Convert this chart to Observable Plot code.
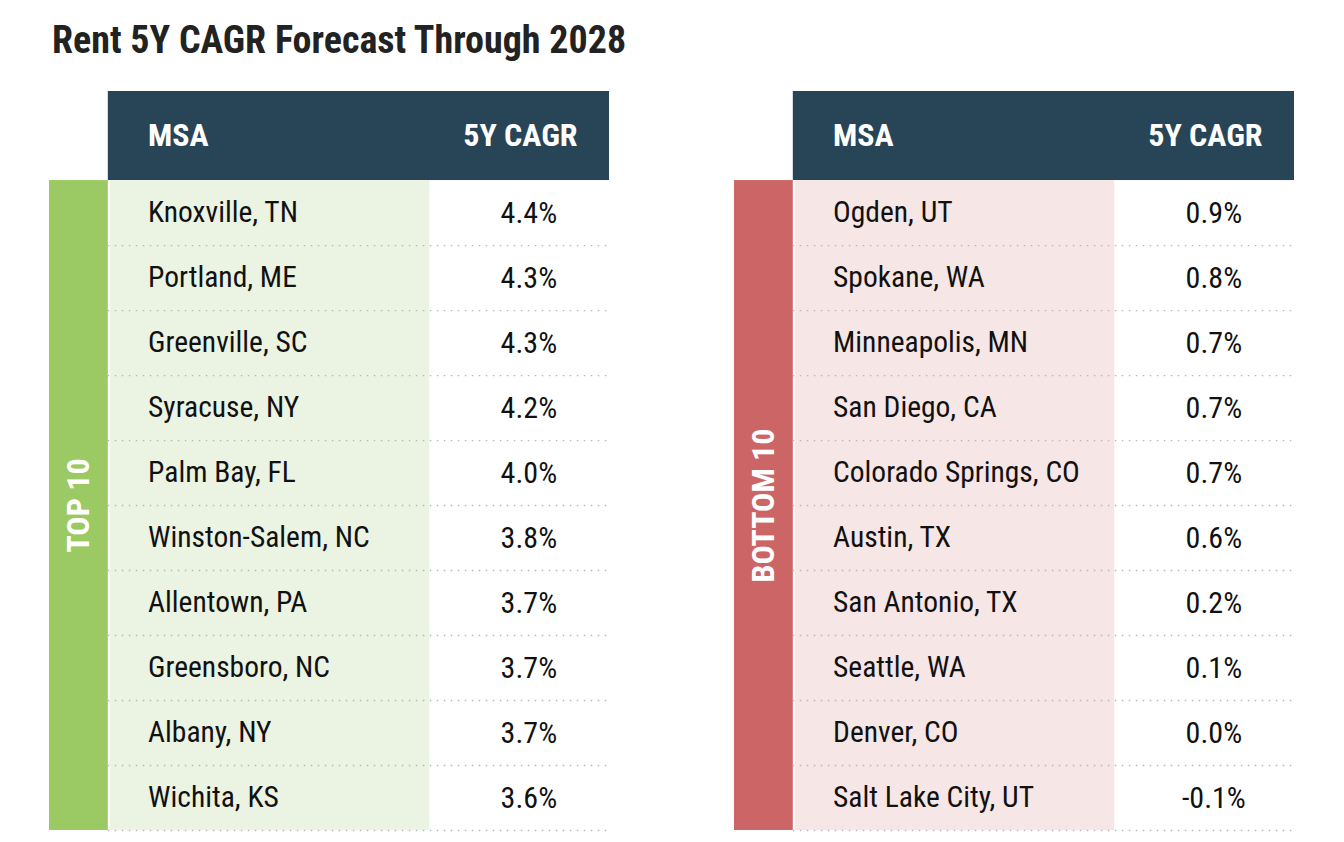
<!DOCTYPE html>
<html>
<head>
<meta charset="utf-8">
<script src="https://cdn.jsdelivr.net/npm/d3@7"></script>
<script src="https://cdn.jsdelivr.net/npm/@observablehq/plot@0.6"></script>
<style>
  html, body { margin: 0; padding: 0; background: #fff; }
  body { width: 1344px; height: 842px; position: relative; overflow: hidden;
         font-family: "Roboto Condensed", "Liberation Sans Narrow", "DejaVu Sans Condensed", Roboto, sans-serif; }
  #title { position: absolute; left: 52px; top: 18px; font-size: 38px; font-weight: 700; color: #222; line-height: normal; }
  #chart { position: absolute; left: 0; top: 80px; }
</style>
</head>
<body>
<div id="title">Rent 5Y CAGR Forecast Through 2028</div>
<div id="chart"></div>
<script>
const groups = ["TOP 10", "BOTTOM 10"];
const groupColors = ["#9bca65", "#cc6666"];
const groupLight = ["#ebf3e2", "#f6e6e5"];
const headerLabels = ["MSA", "5Y CAGR"];
const topNames = ["Knoxville, TN", "Portland, ME", "Greenville, SC", "Syracuse, NY", "Palm Bay, FL", "Winston-Salem, NC", "Allentown, PA", "Greensboro, NC", "Albany, NY", "Wichita, KS"];
const topValues = [4.4, 4.3, 4.3, 4.2, 4.0, 3.8, 3.7, 3.7, 3.7, 3.6];
const bottomNames = ["Ogden, UT", "Spokane, WA", "Minneapolis, MN", "San Diego, CA", "Colorado Springs, CO", "Austin, TX", "San Antonio, TX", "Seattle, WA", "Denver, CO", "Salt Lake City, UT"];
const bottomValues = [0.9, 0.8, 0.7, 0.7, 0.7, 0.6, 0.2, 0.1, 0.0, -0.1];

// build tables from arrays
const rows = [
  ...topNames.map((name, i) => ({group: groups[0], i, name, value: topValues[i]})),
  ...bottomNames.map((name, i) => ({group: groups[1], i, name, value: bottomValues[i]}))
];
const nRows = topNames.length;
const groupData = groups.map((g, k) => ({group: g, color: groupColors[k], light: groupLight[k]}));

// layout in facet-relative units (0..100 across each table)
const HEADER = 1.37;
const SIDE = 10.5, SPLIT = 57.4 + 10.5, NAMEX = 17.6, VALX = 85.6, HDR_END = 94.3;

const font = '"Roboto Condensed", "Liberation Sans Narrow", "DejaVu Sans Condensed", Roboto, sans-serif';

const chart = Plot.plot({
  width: 1344,
  height: 762,
  marginLeft: 48,
  marginRight: 49,
  marginTop: 0,
  marginBottom: 0,
  style: {fontFamily: font, background: "#fff"},
  fx: {domain: groups, paddingInner: 0.182, paddingOuter: 0, axis: null, label: null},
  x: {domain: [0, 100], axis: null},
  y: {domain: [-HEADER, nRows], range: [11, 750], axis: null},
  color: {type: "identity"},
  marks: [
    // header band
    Plot.rect(groupData, {fx: "group", x1: SIDE, x2: 100, y1: -HEADER, y2: 0, fill: "#284558"}),
    // side colour bar
    Plot.rect(groupData, {fx: "group", x1: 0, x2: SIDE, y1: 0, y2: nRows, fill: "color"}),
    // light name column
    Plot.rect(groupData, {fx: "group", x1: SIDE + 0.35, x2: SPLIT, y1: 0, y2: nRows, fill: "light"}),
    // dotted row separators
    Plot.ruleY(rows, {fx: "group", y: d => d.i + 1, x1: SIDE, x2: 100, stroke: "#b8b8b8", strokeWidth: 1.3, strokeDasharray: "1.5,5.5"}),
    // header labels
    Plot.text(groupData, {fx: "group", x: NAMEX, y: -HEADER / 2, text: () => headerLabels[0], textAnchor: "start", fill: "#fff", fontSize: 32, fontWeight: 700}),
    Plot.text(groupData, {fx: "group", x: HDR_END, y: -HEADER / 2, text: () => headerLabels[1], textAnchor: "end", fill: "#fff", fontSize: 32, fontWeight: 700}),
    // vertical group label
    Plot.text(groupData, {fx: "group", x: SIDE / 2, y: nRows / 2, text: "group", rotate: -90, fill: "#fff", fontSize: 32, fontWeight: 700}),
    // names
    Plot.text(rows, {fx: "group", x: NAMEX, y: d => d.i + 0.5, text: "name", textAnchor: "start", fill: "#111", fontSize: 29.5}),
    // values
    Plot.text(rows, {fx: "group", x: VALX, y: d => d.i + 0.5, text: d => d.value.toFixed(1) + "%", textAnchor: "middle", fill: "#111", fontSize: 30})
  ]
});
document.getElementById("chart").appendChild(chart);
</script>
</body>
</html>
